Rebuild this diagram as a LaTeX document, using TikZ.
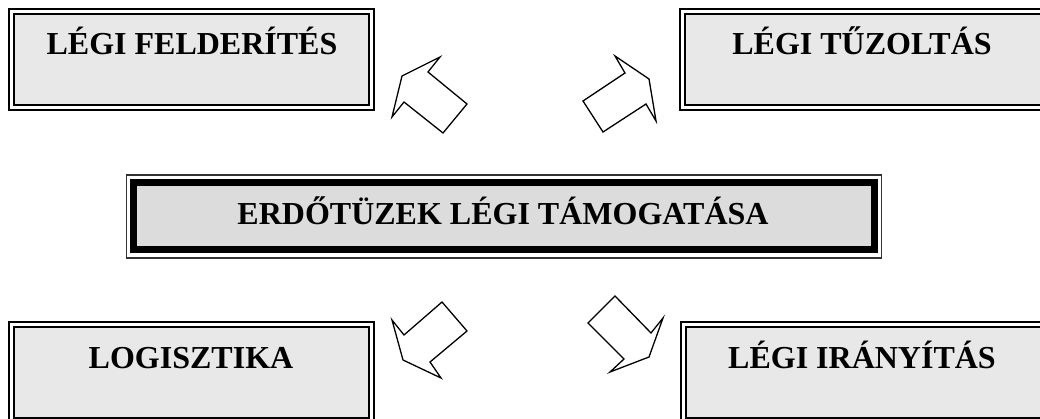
\documentclass[tikz,border=0pt]{standalone}
\usepackage{fontspec}
\setmainfont{Liberation Serif}
\definecolor{boxfill}{HTML}{E8E8E8}
\definecolor{mainfill}{HTML}{DCDCDC}
\tikzset{
  smallbox/.style={draw=black, line width=2pt, double=white, double distance=3pt,
    fill=boxfill, minimum width=360pt, minimum height=96pt, outer sep=0pt, inner sep=0pt},
  mainbox/.style={draw=black, line width=7pt, fill=mainfill,
    minimum width=740.5pt, minimum height=67pt, outer sep=0pt, inner sep=0pt},
  thinframe/.style={draw=black!80, line width=1.3pt},
  lbl/.style={font=\fontsize{32}{38}\selectfont\bfseries, anchor=base, inner sep=0pt},
  blockarrow/.style={draw=black, line width=1.3pt, line join=miter, fill=white}
}
\begin{document}
\begin{tikzpicture}[x=1pt,y=-1pt]
\useasboundingbox (0,0) rectangle (1040,419);
\begin{scope}
\clip (0,0) rectangle (1040,419);
% boxes
\node[smallbox] (lf) at (191.5,59.5) {};
\node[smallbox, minimum width=362pt] (lt) at (863.5,59.5) {};
\node[smallbox] (lo) at (191,372.5) {};
\node[smallbox, minimum width=362pt] (li) at (864.5,372.5) {};
\node[mainbox] (c) at (503.75,216) {};
\draw[thinframe] ([xshift=-7.3pt,yshift=7.5pt]c.north west) rectangle ([xshift=7.8pt,yshift=-8.5pt]c.south east);
% labels
\node[lbl] (tlf) at (192,55) {LÉGI FELDERÍTÉS};
\node[lbl] (tlt) at (862,55) {LÉGI TŰZOLTÁS};
\node[lbl] (tc) at (503,225) {ERDŐTÜZEK LÉGI TÁMOGATÁSA};
\node[lbl] (tlo) at (191,368) {LOGISZTIKA};
\node[lbl] (tli) at (862,368) {LÉGI IRÁNYÍTÁS};
% block arrows
\draw[blockarrow] (402,76) -- (440,57) -- (428,72) -- (467,104) -- (443,133) -- (404,102) -- (392,117) -- cycle;
\draw[blockarrow] (649,79) -- (615,56) -- (625,73) -- (583,101) -- (603,132) -- (646,104) -- (656,121) -- cycle;
\draw[blockarrow] (404,335) -- (392,320) -- (403,360) -- (441,378) -- (430,362) -- (467,331) -- (442,302) -- cycle;
\draw[blockarrow] (651,333) -- (663,318) -- (649,357) -- (610,372) -- (624,359) -- (588,323) -- (615,296) -- cycle;
\end{scope}
\end{tikzpicture}
\end{document}
